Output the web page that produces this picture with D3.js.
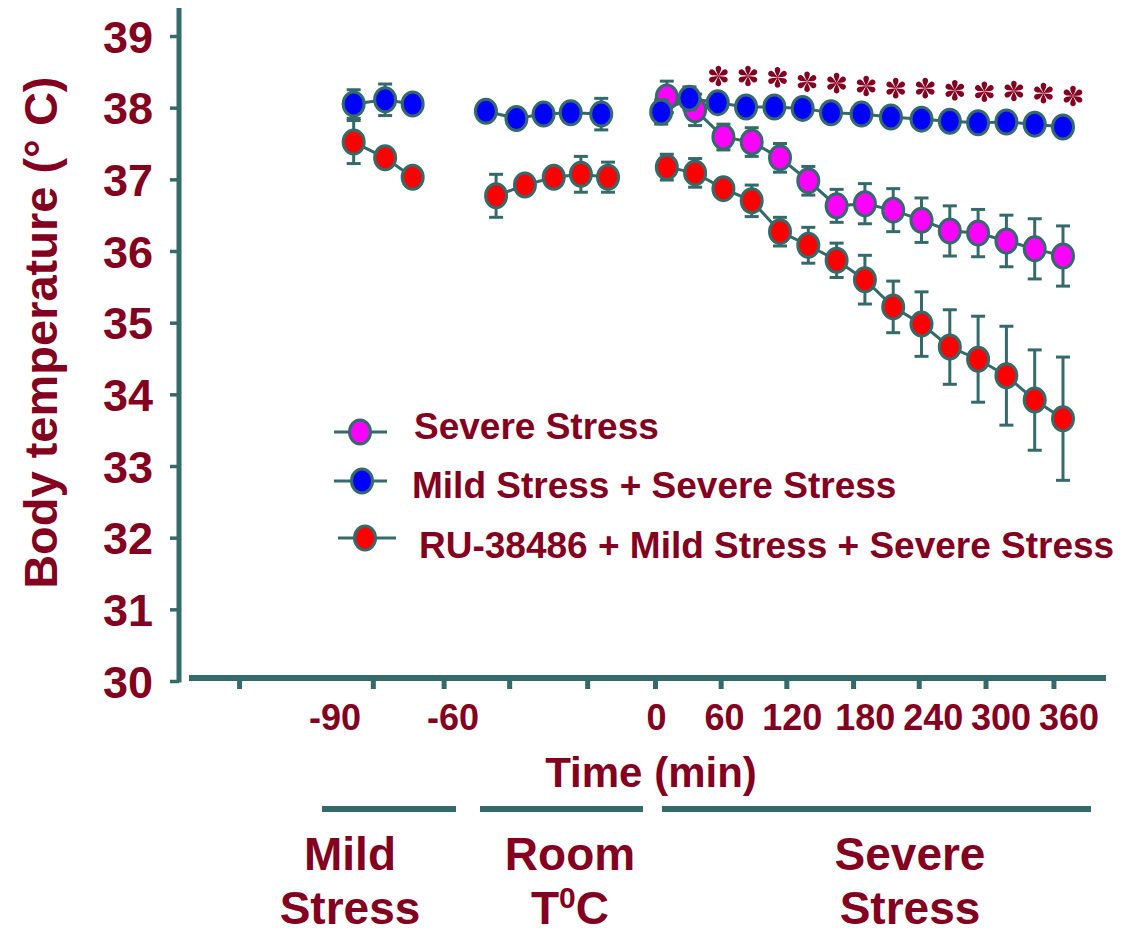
<!DOCTYPE html>
<html>
<head>
<meta charset="utf-8">
<script src="https://cdn.jsdelivr.net/npm/d3@7"></script>
<style>
  html, body { margin: 0; padding: 0; background: #fff; }
  svg { display: block; }
  text { font-family: "Liberation Sans", Arial, sans-serif; font-weight: bold; fill: #840020; }
</style>
</head>
<body>
<svg id="chart" width="1135" height="933"></svg>
<script>
// ---- Data: body temperature (°C), mean ± SEM, by phase ----
const mildTime = [-85, -77, -70];
const roomTimeBlue = [-50, -41, -33, -25, -16];
const roomTimeRed = [-47, -38.5, -30, -22, -14];
const severeTime = [10, 35, 60, 85, 110, 135, 160, 185, 210, 235, 260, 285, 310, 335, 360];
const severeTimeBlue = [5, 30, 55, 80, 105, 130, 155, 182, 208, 235, 260, 285, 310, 335, 360];

// Severe Stress
const severeOnly = [38.15, 37.97, 37.59, 37.52, 37.30, 36.98, 36.63, 36.66, 36.57, 36.43, 36.28, 36.25, 36.14, 36.03, 35.93];
const severeOnlyErr = [0.22, 0.22, 0.18, 0.2, 0.2, 0.2, 0.23, 0.28, 0.3, 0.31, 0.35, 0.33, 0.36, 0.42, 0.42];

// Mild Stress + Severe Stress
const mildMild = [38.05, 38.11, 38.05];
const mildMildErr = [0.2, 0.22, 0.1];
const mildRoom = [37.95, 37.85, 37.91, 37.93, 37.91];
const mildRoomErr = [0.1, 0.1, 0.1, 0.1, 0.22];
const mildSevere = [37.94, 38.13, 38.07, 38.01, 38.01, 37.99, 37.93, 37.91, 37.87, 37.84, 37.81, 37.79, 37.80, 37.77, 37.73];
const mildSevereErr = [0.17, 0.16, 0.1, 0.1, 0.1, 0.1, 0.1, 0.1, 0.1, 0.1, 0.1, 0.1, 0.1, 0.1, 0.1];

// RU-38486 + Mild Stress + Severe Stress
const ruMild = [37.52, 37.30, 37.03];
const ruMildErr = [0.3, 0.1, 0.1];
const ruRoom = [36.77, 36.92, 37.03, 37.07, 37.03];
const ruRoomErr = [0.3, 0.1, 0.1, 0.25, 0.21];
const ruSevere = [37.17, 37.09, 36.87, 36.70, 36.27, 36.08, 35.87, 35.60, 35.22, 34.98, 34.66, 34.49, 34.26, 33.92, 33.66];
const ruSevereErr = [0.18, 0.2, 0.1, 0.22, 0.2, 0.25, 0.24, 0.34, 0.36, 0.45, 0.52, 0.6, 0.69, 0.7, 0.86];

// Significance marks (Mild+Severe vs Severe) from 60 min on
const starTimes = [60, 85, 110, 135, 160, 185, 210, 235, 260, 285, 310, 335, 360];

// Axis ticks and labels
const yTicks = [30, 31, 32, 33, 34, 35, 36, 37, 38, 39];
const xTickMarks = [-114, -80, -62, -43, -20, 0, 58, 116, 175, 233, 292, 352];
const xTickLabels = [-90, -60, 0, 60, 120, 180, 240, 300, 360];

const seriesNames = ["Severe Stress", "Mild Stress + Severe Stress", "RU-38486 + Mild Stress + Severe Stress"];
const seriesColors = ["#ff00ff", "#0000ff", "#ff0000"];

const phaseNames = [["Mild", "Stress"], ["Room", "T0C"], ["Severe", "Stress"]];

// ---- Layout ----
const axisColor = "#346a6a";
const textColor = "#840020";
const svg = d3.select("#chart");

// Broken time axis: compressed pre-stress minutes, then severe-stress minutes
const x = d3.scaleLinear()
  .domain([-120, -90, -60, 0, 360])
  .range([216, 334, 452, 655.5, 1063]);
const y = d3.scaleLinear().domain([30, 39]).range([681, 36]);

// Y axis
const yAxisX = 179;
const yAxis = d3.axisLeft(y).tickValues(yTicks).tickSize(9).tickPadding(17).tickFormat(d3.format("d"));
const gy = svg.append("g").attr("transform", `translate(${yAxisX},0)`).call(yAxis);
gy.select(".domain").remove();
gy.selectAll(".tick line").attr("stroke", axisColor).attr("stroke-width", 3.5);
gy.selectAll(".tick text")
  .attr("fill", textColor)
  .style("font-size", "45px")
  .attr("dy", "0.36em");
svg.append("line")
  .attr("x1", yAxisX).attr("x2", yAxisX)
  .attr("y1", y(39.39)).attr("y2", y(30) + 1.5)
  .attr("stroke", axisColor).attr("stroke-width", 5);

svg.append("text")
  .attr("transform", `translate(57,${(y(39.3) + y(30.7)) / 2 + 10}) rotate(-90)`)
  .attr("text-anchor", "middle")
  .style("font-size", "47px")
  .text("Body temperature (° C)");

// X axis
const xAxisY = 678;
svg.append("line")
  .attr("x1", 189).attr("x2", 1106)
  .attr("y1", xAxisY).attr("y2", xAxisY)
  .attr("stroke", axisColor).attr("stroke-width", 6);
svg.append("g").selectAll("rect").data(xTickMarks).join("rect")
  .attr("x", d => x(d) - 2.5).attr("y", xAxisY + 3)
  .attr("width", 5).attr("height", 8)
  .attr("fill", axisColor);
svg.append("g").selectAll("text").data(xTickLabels).join("text")
  .attr("x", d => x(d) + (d >= 180 ? 6 : 1))
  .attr("y", 730)
  .attr("text-anchor", "middle")
  .style("font-size", "36px")
  .text(d => d);

svg.append("text")
  .attr("x", 651).attr("y", 787)
  .attr("text-anchor", "middle")
  .style("font-size", "42px")
  .text("Time (min)");

// Phase bars and names
const phaseBars = [[322, 456], [480, 643], [662, 1091]];
svg.append("g").selectAll("line").data(phaseBars).join("line")
  .attr("x1", d => d[0]).attr("x2", d => d[1])
  .attr("y1", 809).attr("y2", 809)
  .attr("stroke", axisColor).attr("stroke-width", 6);

const phaseCenters = [350, 570, 910];
phaseNames.forEach((lines, i) => {
  lines.forEach((ln, j) => {
    const t = svg.append("text")
      .attr("x", phaseCenters[i]).attr("y", 870 + j * 54)
      .attr("text-anchor", "middle")
      .style("font-size", "46px");
    if (ln === "T0C") {
      t.append("tspan").text("T");
      t.append("tspan").attr("dy", -16).style("font-size", "30px").text("0");
      t.append("tspan").attr("dy", 16).text("C");
    } else {
      t.text(ln);
    }
  });
});

// ---- Series drawing ----
function drawGroup(times, values, errs, color) {
  const g = svg.append("g");
  const pts = times.map((t, i) => ({ t, v: values[i], e: errs[i] }));
  // error bars
  const eb = g.append("g").attr("stroke", axisColor).attr("stroke-width", 3);
  pts.forEach(p => {
    const cx = x(p.t);
    eb.append("line").attr("x1", cx).attr("x2", cx).attr("y1", y(p.v + p.e)).attr("y2", y(p.v - p.e));
    eb.append("line").attr("x1", cx - 7).attr("x2", cx + 7).attr("y1", y(p.v + p.e)).attr("y2", y(p.v + p.e));
    eb.append("line").attr("x1", cx - 7).attr("x2", cx + 7).attr("y1", y(p.v - p.e)).attr("y2", y(p.v - p.e));
  });
  // connecting line
  g.append("path")
    .datum(pts)
    .attr("fill", "none")
    .attr("stroke", axisColor)
    .attr("stroke-width", 3)
    .attr("d", d3.line().x(d => x(d.t)).y(d => y(d.v)));
  // markers
  g.selectAll("ellipse").data(pts).join("ellipse")
    .attr("cx", d => x(d.t)).attr("cy", d => y(d.v))
    .attr("rx", 10.5).attr("ry", 12)
    .attr("fill", color)
    .attr("stroke", axisColor).attr("stroke-width", 3);
}

// Severe Stress only
drawGroup(severeTime, severeOnly, severeOnlyErr, seriesColors[0]);
// RU-38486 group
drawGroup(mildTime, ruMild, ruMildErr, seriesColors[2]);
drawGroup(roomTimeRed, ruRoom, ruRoomErr, seriesColors[2]);
drawGroup(severeTime, ruSevere, ruSevereErr, seriesColors[2]);
// Mild Stress + Severe Stress group
drawGroup(mildTime, mildMild, mildMildErr, seriesColors[1]);
drawGroup(roomTimeBlue, mildRoom, mildRoomErr, seriesColors[1]);
drawGroup(severeTimeBlue, mildSevere, mildSevereErr, seriesColors[1]);

// Significance asterisks (six teardrop petals) above the Mild Stress + Severe Stress curve
const starX = d3.scaleLinear().domain([60, 360]).range([x(60) - 5, x(360) + 10]);
const petal = "M0,0 C0.9,-2.5 2.9,-5.5 2.8,-7.6 C2.7,-11.2 -2.7,-11.2 -2.8,-7.6 C-2.9,-5.5 -0.9,-2.5 0,0 Z";
const stars = svg.append("g").selectAll("g").data(starTimes).join("g")
  .attr("transform", d => {
    const idx = severeTimeBlue.findIndex(t => t >= d);
    return `translate(${starX(d)},${y(mildSevere[idx]) - 31})`;
  });
stars.each(function () {
  const s = d3.select(this);
  for (let k = 0; k < 6; k++) {
    s.append("path").attr("d", petal).attr("transform", `rotate(${k * 60})`).attr("fill", textColor);
  }
});

// ---- Legend ----
const legendRows = [
  { lx1: 334, lx2: 387, cx: 360, cy: 432, tx: 414, ty: 439 },
  { lx1: 334, lx2: 387, cx: 362, cy: 481, tx: 412, ty: 498 },
  { lx1: 338, lx2: 396, cx: 365, cy: 538, tx: 419, ty: 558 }
];
const lg = svg.append("g");
legendRows.forEach((r, i) => {
  lg.append("line").attr("x1", r.lx1).attr("x2", r.lx2).attr("y1", r.cy).attr("y2", r.cy)
    .attr("stroke", axisColor).attr("stroke-width", 3);
  lg.append("ellipse").attr("cx", r.cx).attr("cy", r.cy).attr("rx", 10.5).attr("ry", 12)
    .attr("fill", seriesColors[i]).attr("stroke", axisColor).attr("stroke-width", 3);
  lg.append("text").attr("x", r.tx).attr("y", r.ty).style("font-size", "37px").text(seriesNames[i]);
});
</script>
</body>
</html>
